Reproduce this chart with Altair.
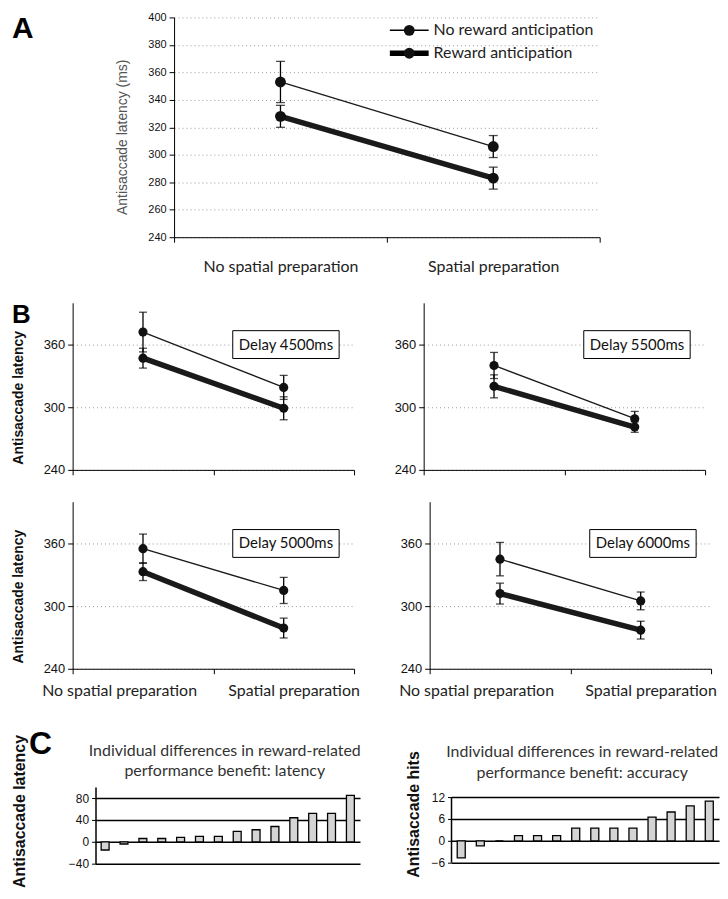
import altair as alt
import pandas as pd

# ---------------- data ----------------
categories = ["No spatial preparation", "Spatial preparation"]
series = ["No reward anticipation", "Reward anticipation"]

# Panel A (mean latency, +/- error)
a_no_reward_mean = [353, 306]
a_no_reward_err = [15, 8]
a_reward_mean = [328, 283]
a_reward_err = [8, 8]

# Panel B (four delays)
delays = ["Delay 4500ms", "Delay 5500ms", "Delay 5000ms", "Delay 6000ms"]
b_no_reward_mean = [[372, 319], [340, 289], [355, 315], [345, 305]]
b_no_reward_err = [[19, 11.5], [12.5, 7], [14, 12.5], [16, 8.5]]
b_reward_mean = [[347, 299], [320, 281], [333, 279], [312, 277]]
b_reward_err = [[9.5, 11], [11, 5], [8.5, 9.5], [10, 8.5]]

# Panel C (individual differences)
subjects = list(range(1, 15))
c_latency = [-15, -4, 6, 6, 8, 10, 10, 19, 22, 28, 44, 52, 52, 85]
c_accuracy = [-4.7, -1.4, 0, 1.4, 1.4, 1.4, 3.5, 3.5, 3.5, 3.5, 6.5, 7.9, 9.6, 10.9]
c_titles = [
    ["Individual differences in reward-related", "performance benefit: latency"],
    ["Individual differences in reward-related", "performance benefit: accuracy"],
]

NUM_FONT = "Liberation Sans"
LBL_FONT = "Lato"


def make_df(nr_mean, nr_err, r_mean, r_err):
    rows = []
    for s, means, errs in [(series[0], nr_mean, nr_err), (series[1], r_mean, r_err)]:
        for i, c in enumerate(categories):
            rows.append({"series": s, "cat": c, "pos": i + 0.5, "mean": means[i],
                         "lo": means[i] - errs[i], "hi": means[i] + errs[i]})
    return pd.DataFrame(rows)


def x_axis(label_pos, padding):
    tick_op = {"condition": {"test": "datum.value % 1 != 0", "value": 0}, "value": 1}
    common = dict(domainColor="black", domainWidth=1, tickColor="black", tickSize=5,
                  grid=False, title=None, tickOpacity=tick_op)
    if label_pos is None:
        return alt.Axis(values=[0, 1, 2], labels=False, **common)
    expr = ""
    for p, c in zip(label_pos, categories):
        expr += f"abs(datum.value - {p}) < 0.001 ? '{c}' : "
    expr += "''"
    return alt.Axis(values=sorted([0, 1, 2] + list(label_pos)), labelExpr=expr,
                    labelFont=LBL_FONT, labelFontSize=16, labelColor="#222",
                    labelPadding=padding, labelOverlap=False, labelFlush=False, **common)


def letter(ch, x, y, size):
    return alt.Chart(pd.DataFrame({"t": [ch]})).mark_text(
        font=NUM_FONT, fontSize=size, fontWeight="bold", align="left", baseline="top", color="black"
    ).encode(text="t:N", x=alt.value(x), y=alt.value(y))


def spacer():
    # 1px-wide empty cell that pins each row to the left edge
    return alt.Chart(pd.DataFrame({"t": [0]})).mark_rule(strokeWidth=0.01, opacity=0).encode(
        x=alt.value(0), x2=alt.value(1), y=alt.value(0)).properties(width=1, height=1)


def line_panel(df, width, height, yaxis, xaxis, pt_size, cap, extras):
    x = alt.X("pos:Q", scale=alt.Scale(domain=[0, 2], nice=False, zero=False), axis=xaxis)

    def Y(f):
        return alt.Y(f"{f}:Q", scale=alt.Scale(domain=[240, 400], nice=False, zero=False), axis=yaxis)

    base = alt.Chart(df)
    err = base.mark_rule(color="black", strokeWidth=1.3).encode(x=x, y=Y("lo"), y2="hi:Q")
    cap_lo = base.mark_tick(orient="horizontal", size=cap, thickness=1.3, color="black").encode(x=x, y=Y("lo"))
    cap_hi = base.mark_tick(orient="horizontal", size=cap, thickness=1.3, color="black").encode(x=x, y=Y("hi"))
    lines = base.mark_line(color="#1a1a1a").encode(
        x=x, y=Y("mean"),
        strokeWidth=alt.StrokeWidth("series:N", scale=alt.Scale(domain=series, range=[1.3, 5.5]), legend=None))
    pts = base.mark_circle(size=pt_size, color="#111", opacity=1).encode(x=x, y=Y("mean"))
    return alt.layer(err, cap_lo, cap_hi, lines, pts, *extras).properties(width=width, height=height)


# ---------------- panel A ----------------
df_a = make_df(a_no_reward_mean, a_no_reward_err, a_reward_mean, a_reward_err)
ya = alt.Axis(values=list(range(240, 401, 20)), grid=True, gridDash=[1, 3], gridColor="#999",
              domainColor="black", tickColor="black", tickSize=5, labelFont=NUM_FONT,
              labelFontSize=11, labelColor="#111", labelPadding=3,
              title="Antisaccade latency (ms)", titleFont=NUM_FONT, titleFontSize=14,
              titleFontWeight="normal", titleColor="#555", titleAngle=270, titleX=-52, titleY=120,
              titleAlign="center", titleBaseline="middle")
legend_layers = []
for s, w, yy in [(series[0], 1.5, 13), (series[1], 5.5, 36)]:
    ld = alt.Chart(pd.DataFrame({"label": [s]}))
    legend_layers.append(ld.mark_rule(color="black", strokeWidth=w).encode(
        x=alt.value(217), x2=alt.value(256), y=alt.value(yy)))
    legend_layers.append(ld.mark_circle(size=120, color="#111", opacity=1).encode(
        x=alt.value(236.5), y=alt.value(yy)))
    legend_layers.append(ld.mark_text(font=LBL_FONT, fontSize=16, align="left", baseline="middle",
                                      color="#222").encode(text="label:N", x=alt.value(261), y=alt.value(yy)))
chart_a = line_panel(df_a, 428, 221, ya, x_axis([0.5, 1.5], 17), 120, 9,
                     legend_layers + [letter("A", -163, -3, 30)])


# ---------------- panel B ----------------
def b_panel(k, left, bottom):
    df = make_df(b_no_reward_mean[k], b_no_reward_err[k], b_reward_mean[k], b_reward_err[k])
    yargs = dict(values=[240, 300, 360], grid=True, gridDash=[1, 3], gridColor="#999",
                 domainColor="black", tickColor="black", tickSize=5, labelFont=NUM_FONT,
                 labelFontSize=13, labelColor="#111", labelPadding=3)
    if left:
        yax = alt.Axis(title="Antisaccade latency", titleFont=NUM_FONT, titleFontSize=14,
                       titleFontWeight="bold", titleColor="#111", titleAngle=270, titleX=-54,
                       titleY=95, titleAlign="center", titleBaseline="middle", **yargs)
    else:
        yax = alt.Axis(title=None, **yargs)
    xax = x_axis([0.33, 1.57], 9) if bottom else x_axis(None, 0)
    bd = alt.Chart(pd.DataFrame({"label": [delays[k]]}))
    box = bd.mark_rect(fill="white", stroke="black", strokeWidth=1).encode(
        x=alt.value(161), x2=alt.value(268), y=alt.value(28), y2=alt.value(56))
    txt = bd.mark_text(font=LBL_FONT, fontSize=15, color="#111", baseline="middle").encode(
        text="label:N", x=alt.value(214.5), y=alt.value(42))
    extras = [box, txt]
    if left and not bottom:
        extras.append(letter("B", -61, -1, 26))
    return line_panel(df, 283, 168, yax, xax, 85, 8, extras)


row_b1 = alt.hconcat(spacer(), alt.hconcat(b_panel(0, True, False), b_panel(1, False, False), spacing=38),
                     spacing=0)
row_b2 = alt.hconcat(spacer(), alt.hconcat(b_panel(2, True, True), b_panel(3, False, True), spacing=38),
                     spacing=0)


# ---------------- panel C ----------------
def c_panel(values, width, height, domain, ticks, ytitle, tsize, title_x, title_y, lines, line_ys,
            extras, show_domain=True):
    df = pd.DataFrame({"subject": subjects, "value": values})
    yscale = alt.Scale(domain=domain, nice=False, zero=False)
    yaxis = alt.Axis(values=ticks, grid=True, gridColor="black", gridWidth=1.5,
                     domain=show_domain, domainColor="black", domainWidth=1.5,
                     tickColor="black", tickSize=4,
                     labelFont=NUM_FONT, labelFontSize=12, labelColor="#111", labelPadding=3,
                     title=ytitle, titleFont=NUM_FONT, titleFontSize=tsize, titleFontWeight="bold",
                     titleColor="#111", titleAngle=270, titleX=title_x, titleY=title_y,
                     titleAlign="center", titleBaseline="middle")
    bars = alt.Chart(df).mark_bar(fill="#d4d4d4", stroke="black", strokeWidth=1.3).encode(
        x=alt.X("subject:O", axis=None, scale=alt.Scale(paddingInner=0.58, paddingOuter=0.3)),
        y=alt.Y("value:Q", scale=yscale, axis=yaxis))
    layers = [bars]
    if not show_domain:
        # axis line only over the tick range
        layers.append(alt.Chart(pd.DataFrame({"value": [ticks[0]], "hi": [ticks[-1]]})).mark_rule(
            color="black", strokeWidth=1.5).encode(x=alt.value(0), y=alt.Y("value:Q", scale=yscale, axis=yaxis),
                                                   y2="hi:Q"))
    for line, yy in zip(lines, line_ys):
        layers.append(alt.Chart(pd.DataFrame({"t": [line]})).mark_text(
            font=LBL_FONT, fontSize=16, color="#333", baseline="middle").encode(
            text="t:N", x=alt.value(width / 2 - 3), y=alt.value(yy)))
    return alt.layer(*layers, *extras).properties(width=width, height=height)


c_left = c_panel(c_latency, 266, 77, [-40, 100], [-40, 0, 40, 80], "Antisaccade latency", 16, -76, 24,
                 c_titles[0], [-36, -16], [letter("C", -67, -58, 32)])
# right panel: same top as the left one, axis line drawn only from -6 to 12
c_right = c_panel(c_accuracy, 269, 76, [-6, 14.73], [-6, 0, 6, 12], "Antisaccade hits", 16, -38, 27,
                  c_titles[1], [-35, -14], [], show_domain=False)
row_c = alt.hconcat(spacer(), alt.hconcat(c_left, c_right, spacing=43), spacing=0)

row_a = alt.hconcat(spacer(), chart_a, spacing=0)

rows_b = alt.vconcat(row_b1, row_b2, spacing=23)
col_ab = alt.vconcat(row_a, rows_b, spacing=25)
chart = alt.vconcat(col_ab, row_c, spacing=28).properties(
    padding=0).configure_view(stroke="transparent")

chart.save("out.html", embed_options={"renderer": "svg", "actions": False})
